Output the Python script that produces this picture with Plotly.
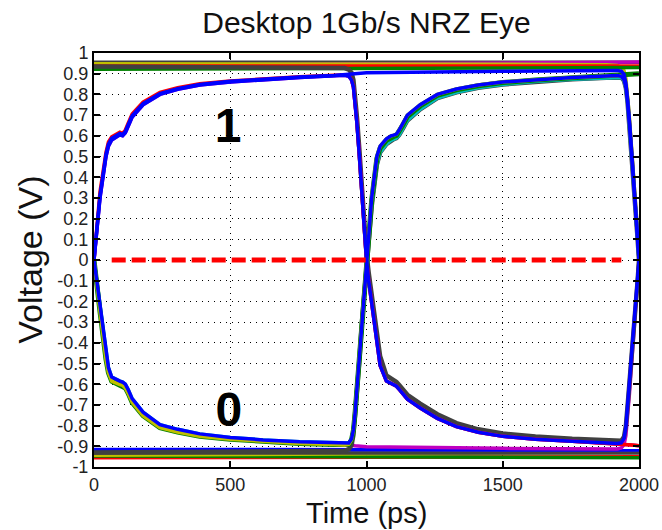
import plotly.graph_objects as go

# ---- time grids (ps) -------------------------------------------------------
T1 = [0, 8, 22, 44, 53, 65, 85, 95, 105, 115, 125, 140, 180, 242, 307, 388,
      500, 620, 755, 880, 920, 935, 945, 952, 958, 965, 974, 984, 995, 1000]
T2 = [1000, 1008, 1019, 1038, 1050, 1073, 1090, 1100, 1110, 1120, 1135, 1150,
      1197, 1260, 1330, 1410, 1500, 1620, 1755, 1880, 1920, 1935, 1945, 1952,
      1958, 1965, 1974, 1984, 1995, 2000]
TE1 = [0, 500, 880, 920, 935, 945, 952, 958, 965, 974, 984, 995, 1000]
TE2 = [1000, 1500, 1880, 1920, 1935, 1945, 1952, 1958, 1965, 1974, 1984, 1995, 2000]
TF1 = [0, 1000]
TF_ALL = [0, 2000]

# ---- first bit (0..1000 ps), voltages in V --------------------------------
RISE1_FALL = [0, 0.1, 0.3, 0.5, 0.55, 0.58, 0.6, 0.605, 0.6, 0.615, 0.645, 0.69,
              0.75, 0.8, 0.825, 0.845, 0.86, 0.872, 0.882, 0.89, 0.892, 0.888,
              0.87, 0.835, 0.77, 0.66, 0.5, 0.3, 0.1, 0]
RISE1_FALL_LEAD = [0, 0.12, 0.33, 0.52, 0.57, 0.595, 0.612, 0.617, 0.612, 0.628,
                   0.66, 0.705, 0.763, 0.81, 0.832, 0.851, 0.865, 0.876, 0.885,
                   0.892, 0.894, 0.89, 0.872, 0.837, 0.772, 0.662, 0.502, 0.3,
                   0.1, 0]
RISE1_HOLD = [0, 0.11, 0.31, 0.51, 0.56, 0.588, 0.606, 0.611, 0.606, 0.621,
              0.652, 0.697, 0.756, 0.804, 0.828, 0.848, 0.863, 0.874, 0.884,
              0.891, 0.894, 0.896, 0.897, 0.898, 0.899, 0.9, 0.901, 0.902,
              0.903, 0.904]
FALL1_RISE = [0, -0.08, -0.22, -0.45, -0.52, -0.565, -0.58, -0.585, -0.59, -0.6,
              -0.625, -0.67, -0.735, -0.795, -0.818, -0.84, -0.857, -0.869,
              -0.878, -0.884, -0.887, -0.884, -0.865, -0.82, -0.74, -0.62,
              -0.46, -0.28, -0.1, 0]
FALL1_RISE_LEAD = [0, -0.1, -0.25, -0.48, -0.545, -0.585, -0.598, -0.602,
                   -0.606, -0.618, -0.643, -0.688, -0.752, -0.81, -0.831, -0.851,
                   -0.866, -0.877, -0.886, -0.891, -0.894, -0.89, -0.869, -0.822,
                   -0.742, -0.621, -0.46, -0.28, -0.1, 0]
FALL1_HOLD = [0, -0.09, -0.235, -0.465, -0.532, -0.575, -0.59, -0.594, -0.598,
              -0.609, -0.634, -0.679, -0.744, -0.803, -0.825, -0.846, -0.862,
              -0.874, -0.883, -0.889, -0.892, -0.894, -0.895, -0.896, -0.897,
              -0.898, -0.899, -0.9, -0.901, -0.902]
HIGH1_FALL = [0.935, 0.933, 0.93, 0.927, 0.92, 0.905, 0.87, 0.8, 0.69, 0.53,
              0.33, 0.13, 0.03]
LOW1_RISE = [-0.93, -0.928, -0.925, -0.922, -0.914, -0.895, -0.845, -0.76,
             -0.64, -0.48, -0.29, -0.1, 0]
HIGH1_FLAT_Y = [0.948, 0.948]

# ---- second bit (1000..2000 ps) -------------------------------------------
RISE2_FALL = [0, 0.12, 0.3, 0.5, 0.55, 0.585, 0.6, 0.603, 0.608, 0.628, 0.663,
              0.7, 0.75, 0.8, 0.826, 0.845, 0.86, 0.872, 0.882, 0.889, 0.891,
              0.887, 0.87, 0.832, 0.765, 0.65, 0.5, 0.3, 0.1, 0]
RISE2_FALL_LAG = [0, 0.09, 0.26, 0.46, 0.52, 0.56, 0.578, 0.584, 0.589, 0.604,
                  0.638, 0.674, 0.728, 0.782, 0.81, 0.832, 0.848, 0.862, 0.873,
                  0.881, 0.884, 0.882, 0.866, 0.83, 0.764, 0.65, 0.5, 0.3, 0.1, 0]
RISE2_HOLD = [0, 0.11, 0.29, 0.49, 0.54, 0.578, 0.593, 0.597, 0.602, 0.621,
              0.656, 0.693, 0.744, 0.795, 0.822, 0.842, 0.857, 0.87, 0.88,
              0.888, 0.891, 0.893, 0.894, 0.895, 0.896, 0.897, 0.898, 0.899,
              0.9, 0.9]
FALL2_RISE = [0, -0.1, -0.2, -0.4, -0.51, -0.585, -0.595, -0.6, -0.61, -0.625,
              -0.65, -0.672, -0.715, -0.765, -0.805, -0.832, -0.852, -0.866,
              -0.876, -0.884, -0.886, -0.883, -0.862, -0.805, -0.71, -0.58,
              -0.45, -0.28, -0.1, 0]
FALL2_RISE_LAG = [0.03, -0.06, -0.16, -0.35, -0.465, -0.558, -0.573, -0.579,
                  -0.589, -0.604, -0.629, -0.651, -0.694, -0.745, -0.788,
                  -0.818, -0.838, -0.853, -0.864, -0.872, -0.875, -0.873,
                  -0.854, -0.8, -0.706, -0.577, -0.448, -0.279, -0.1, 0]
FALL2_HOLD = [0, -0.1, -0.2, -0.4, -0.51, -0.585, -0.595, -0.6, -0.61, -0.625,
              -0.65, -0.672, -0.715, -0.765, -0.805, -0.832, -0.852, -0.866,
              -0.876, -0.884, -0.887, -0.889, -0.89, -0.891, -0.892, -0.893,
              -0.894, -0.895, -0.896, -0.897]
HIGH2_FALL = [0.948, 0.946, 0.943, 0.94, 0.932, 0.915, 0.875, 0.8, 0.685, 0.52,
              0.32, 0.12, 0.02]
HOLD2_FALL = [0.904, 0.912, 0.916, 0.916, 0.912, 0.897, 0.855, 0.784, 0.668,
              0.505, 0.302, 0.1, 0]
LOWHOLD2_RISE = [-0.902, -0.91, -0.913, -0.913, -0.908, -0.892, -0.848, -0.765,
                 -0.645, -0.482, -0.29, -0.1, 0]

# ---- long runs of identical bits (flat rails) ------------------------------
RAIL_GRAY_HI = [0.955, 0.955]
RAIL_MAG_HI = [0.94, 0.956]
RAIL_RED_HI = [0.937, 0.937]
RAIL_GRN_HI = [0.922, 0.93]
RAIL_RED_LO = [-0.955, -0.95]
RAIL_GRN_LO = [-0.947, -0.955]
RAIL_YEL_LO = [-0.94, -0.925]
RAIL_GRAY_LO = [-0.932, -0.932]
RAIL_BLU_LO = [-0.915, -0.918]

# decision threshold
THRESH_T = [65, 1935]
THRESH_V = [0, 0]

# eye level labels
LEVEL_TEXT = ["1", "0"]
LEVEL_T = [492, 495]
LEVEL_V = [0.63, -0.745]

X_TICKS = [0, 500, 1000, 1500, 2000]
Y_TICKS = [1, 0.9, 0.8, 0.7, 0.6, 0.5, 0.4, 0.3, 0.2, 0.1, 0, -0.1, -0.2, -0.3,
           -0.4, -0.5, -0.6, -0.7, -0.8, -0.9, -1]
Y_TICK_TEXT = ["1", "0.9", "0.8", "0.7", "0.6", "0.5", "0.4", "0.3", "0.2",
               "0.1", "0", "-0.1", "-0.2", "-0.3", "-0.4", "-0.5", "-0.6",
               "-0.7", "-0.8", "-0.9", "-1"]

# classic MATLAB line colours
BLUE = "#0000FF"
GREEN = "#008000"
RED = "#FF0000"
CYAN = "#00BFBF"
MAGENTA = "#BF00BF"
YELLOW = "#BFBF00"
GRAY = "#404040"

# (colour, width, first-bit times, first-bit volts, second-bit times, second-bit volts)
TRACES = [
    (GRAY, 3.5, TF_ALL, RAIL_GRAY_HI, None, None),
    (MAGENTA, 3.5, TF_ALL, RAIL_MAG_HI, None, None),
    (YELLOW, 3.5, TF1, HIGH1_FLAT_Y, TE2, HIGH2_FALL),
    (RED, 3.5, TF_ALL, RAIL_RED_HI, None, None),
    (GREEN, 3.5, TF_ALL, RAIL_GRN_HI, None, None),
    (RED, 3.5, TF_ALL, RAIL_RED_LO, None, None),
    (GREEN, 3.5, TF_ALL, RAIL_GRN_LO, None, None),
    (YELLOW, 5.0, TF_ALL, RAIL_YEL_LO, None, None),
    (GRAY, 3.5, TF_ALL, RAIL_GRAY_LO, None, None),
    (BLUE, 3.5, TF_ALL, RAIL_BLU_LO, None, None),
    (MAGENTA, 3.5, T1, FALL1_HOLD, TE2, LOWHOLD2_RISE),
    (GRAY, 4.5, TE1, HIGH1_FALL, T2, FALL2_RISE_LAG),
    (GRAY, 4.5, TE1, LOW1_RISE, T2, RISE2_FALL_LAG),
    (CYAN, 3.5, T1, FALL1_RISE, T2, RISE2_FALL_LAG),
    (MAGENTA, 3.5, T1, RISE1_FALL, T2, FALL2_HOLD),
    (RED, 3.5, T1, RISE1_FALL_LEAD, T2, FALL2_HOLD),
    (GREEN, 5.0, T1, FALL1_RISE_LEAD, T2, RISE2_HOLD),
    (YELLOW, 3.5, T1, FALL1_RISE_LEAD, T2, RISE2_FALL),
    (BLUE, 3.5, T1, RISE1_HOLD, TE2, HOLD2_FALL),
    (BLUE, 3.5, T1, RISE1_FALL, T2, FALL2_RISE),
    (BLUE, 3.5, T1, FALL1_RISE, T2, RISE2_FALL),
]

FONT = "Liberation Sans, Arial, Helvetica, sans-serif"

fig = go.Figure()
for color, width, ta, va, tb, vb in TRACES:
    t = list(ta)
    v = list(va)
    if tb is not None:
        t += tb[1:]
        v += vb[1:]
    fig.add_trace(go.Scatter(x=t, y=v, mode="lines",
                             line=dict(color=color, width=width),
                             showlegend=False, hoverinfo="skip"))

fig.add_trace(go.Scatter(x=THRESH_T, y=THRESH_V, mode="lines",
                         line=dict(color="#FF0000", width=5, dash="14px,6px"),
                         showlegend=False, hoverinfo="skip"))

fig.add_trace(go.Scatter(x=LEVEL_T, y=LEVEL_V, mode="text", text=LEVEL_TEXT,
                         textfont=dict(family=FONT, size=48, color="black",
                                       weight="bold"),
                         textposition="middle center",
                         showlegend=False, hoverinfo="skip"))

axis_common = dict(
    showgrid=True, gridcolor="black", gridwidth=1, griddash="1px,5px",
    showline=True, linecolor="black", linewidth=2, mirror="ticks",
    ticks="inside", ticklen=6, tickwidth=2, tickcolor="black",
    zeroline=False, automargin=False,
    tickfont=dict(family=FONT, size=18, color="#222222"),
)

fig.update_layout(
    width=662, height=530,
    margin=dict(l=94, r=23, t=53, b=63, autoexpand=False),
    paper_bgcolor="white", plot_bgcolor="white",
    title=dict(text="Desktop 1Gb/s NRZ Eye", x=0.5, xref="paper",
               y=1 - 22 / 530, yref="container", yanchor="middle",
               font=dict(family=FONT, size=30, color="#111111")),
    xaxis=dict(range=[0, 2000], tickvals=X_TICKS,
               ticktext=[str(v) for v in X_TICKS], **axis_common),
    yaxis=dict(range=[-1, 1], tickvals=Y_TICKS, ticktext=Y_TICK_TEXT,
               **axis_common),
    annotations=[
        dict(text="Time (ps)", xref="paper", yref="paper", x=0.5, y=-0.111,
             xanchor="center", yanchor="middle", showarrow=False,
             font=dict(family=FONT, size=29, color="#111111")),
        dict(text="Voltage (V)", xref="paper", yref="paper", x=-0.118, y=0.5,
             xanchor="center", yanchor="middle", showarrow=False, textangle=-90,
             font=dict(family=FONT, size=34, color="#111111")),
    ],
)

fig.write_html("out.html")
